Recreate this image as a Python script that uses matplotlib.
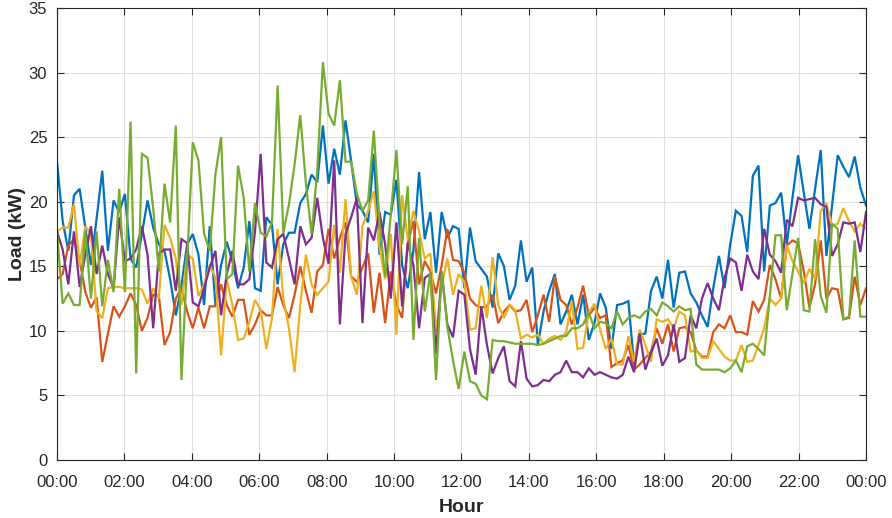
import numpy as np
import matplotlib
matplotlib.use("Agg")
import matplotlib.pyplot as plt

# ---- data (10-minute samples, 144 points from 00:00 to 24:00) ----
blue = [23.1, 18.5, 16.2, 20.5, 21.0, 18.0, 15.1, 18.7, 22.4, 16.2, 20.1, 19.2, 20.6,
        15.6, 14.9, 17.5, 20.1, 18.0, 16.7, 16.2, 14.0, 11.2, 13.5, 16.7, 17.5,
        15.9, 12.0, 18.1, 12.0, 15.1, 16.9, 15.4, 13.3, 14.9, 18.5, 13.3, 13.1,
        18.8, 18.2, 13.6, 16.7, 17.6, 17.6, 19.9, 20.6, 22.1, 21.5, 25.9, 21.4,
        24.1, 22.1, 26.3, 23.1, 19.8, 19.3, 18.4, 23.7, 15.9, 19.2, 19.0, 21.7,
        15.1, 13.3, 16.2, 22.3, 17.1, 19.2, 14.5, 19.2, 17.2, 18.1, 17.9, 13.3,
        18.0, 15.4, 14.8, 14.2, 11.8, 16.0, 15.0, 12.4, 13.5, 17.0, 13.8, 14.9,
        8.9, 11.5, 13.1, 14.4, 10.5, 11.5, 12.8, 10.5, 12.8, 9.3, 10.6,
        12.9, 11.8, 8.6, 12.0, 12.1, 12.3, 7.4, 9.7, 9.8, 13.1, 14.2, 12.5,
        15.5, 11.8, 14.5, 14.6, 12.9, 12.2, 11.2, 10.3, 13.3, 15.8, 13.3, 16.7,
        19.3, 18.9, 16.1, 22.0, 22.8, 14.6, 19.7, 19.9, 20.7, 16.7, 20.3, 23.6,
        20.7, 17.9, 21.0, 24.0, 15.8, 19.7, 23.6, 22.7, 21.9, 23.5, 21.1, 19.7]

orange = [14.0, 14.4, 16.6, 17.1, 15.5, 13.0, 11.8, 12.6, 7.6, 9.8, 11.9, 11.1, 11.9,
          12.9, 12.0, 10.0, 11.0, 12.8, 12.7, 8.9, 9.9, 12.5, 13.3, 11.5, 10.2,
          11.8, 10.2, 11.9, 11.9, 13.6, 12.0, 11.1, 12.4, 12.4, 9.7, 10.5, 11.6,
          11.2, 11.2, 13.4, 12.0, 11.0, 12.8, 15.0, 13.1, 11.4, 14.6, 15.1, 17.9,
          15.6, 17.2, 18.4, 14.2, 13.8, 14.9, 16.0, 11.4, 14.5, 10.6, 14.6, 12.0,
          11.0, 16.8, 18.5, 13.6, 15.4, 14.6, 12.9, 15.1, 17.9, 15.5, 15.4, 14.5,
          12.5, 12.0, 11.8, 11.9, 12.8, 10.6, 11.5, 12.0, 11.5, 11.6, 12.4, 9.9,
          11.2, 12.8, 10.7, 14.2, 12.4, 12.0, 10.5, 11.8, 13.5, 11.2, 11.8,
          11.0, 11.2, 7.2, 7.5, 7.7, 8.9, 7.0, 7.4, 7.9, 8.4, 10.2, 9.0,
          10.5, 8.4, 10.2, 10.3, 9.9, 8.5, 8.0, 8.0, 9.9, 10.5, 10.2, 11.2,
          9.9, 9.9, 9.7, 12.3, 11.5, 12.4, 15.1, 14.0, 12.5, 16.6, 17.0, 16.8,
          14.6, 11.8, 13.6, 17.0, 12.5, 13.3, 13.2, 10.9, 11.0, 14.2, 12.0, 13.3]

yellow = [17.7, 18.0, 18.0, 19.8, 15.0, 18.1, 17.5, 11.5, 11.0, 13.3, 13.4, 13.4, 13.3,
          13.3, 13.3, 13.2, 12.1, 13.3, 12.5, 18.2, 17.2, 15.6, 12.0, 15.9, 15.6,
          12.7, 13.6, 15.1, 14.1, 8.1, 14.0, 12.0, 9.3, 9.4, 10.7, 12.4, 11.6,
          8.6, 11.0, 17.9, 12.5, 10.2, 6.8, 12.0, 15.9, 13.6, 12.8, 13.3, 13.8,
          18.2, 14.5, 20.2, 14.2, 12.8, 18.1, 19.3, 20.8, 16.5, 14.0, 17.5, 9.7,
          20.5, 17.1, 19.3, 17.7, 15.6, 16.0, 9.9, 13.5, 15.6, 12.8, 14.4, 13.8,
          10.1, 10.2, 13.5, 11.0, 15.7, 12.0, 11.0, 12.0, 11.6, 9.4, 9.7, 9.5,
          9.7, 9.0, 9.4, 9.6, 9.3, 9.9, 12.3, 8.6, 8.7, 11.4, 12.1,
          10.1, 8.6, 9.4, 7.4, 7.4, 9.6, 7.6, 10.1, 8.9, 7.6, 10.9, 10.7,
          10.9, 10.2, 11.5, 11.2, 8.4, 8.5, 7.9, 7.9, 9.2, 8.6, 8.0, 7.7,
          7.7, 8.9, 7.6, 7.7, 8.9, 10.2, 12.5, 12.0, 12.5, 16.6, 15.4, 14.6,
          13.7, 14.8, 14.0, 19.3, 19.9, 18.1, 18.3, 19.5, 18.5, 17.7, 18.3, 17.9]

purple = [17.7, 16.3, 13.6, 17.7, 13.4, 15.9, 18.1, 14.4, 16.6, 14.4, 13.3, 18.8, 15.4,
          15.6, 16.3, 18.1, 15.9, 10.2, 16.0, 16.3, 16.3, 13.1, 17.1, 16.8, 12.2,
          11.9, 13.3, 14.9, 16.2, 11.2, 14.4, 16.2, 13.6, 13.6, 14.0, 17.7, 23.7,
          15.3, 14.9, 17.1, 17.5, 15.6, 13.6, 18.1, 16.7, 17.2, 20.3, 17.2, 15.2,
          23.2, 10.5, 17.5, 18.8, 20.3, 10.6, 18.0, 17.0, 19.2, 16.7, 12.5, 18.4,
          11.9, 16.8, 15.1, 10.2, 14.1, 14.4, 8.2, 14.6, 10.5, 9.5, 13.1, 12.8,
          8.6, 6.6, 11.9, 8.9, 6.7, 7.9, 8.8, 6.1, 5.7, 9.2, 6.3, 5.7,
          5.8, 6.2, 6.1, 6.6, 6.8, 7.7, 6.8, 6.8, 6.4, 7.1, 6.6,
          6.8, 6.6, 6.4, 6.3, 6.6, 8.0, 6.8, 9.8, 7.0, 8.3, 9.4, 7.3,
          8.1, 10.5, 7.6, 7.9, 11.2, 10.2, 12.5, 13.7, 12.5, 11.6, 14.1, 15.6,
          15.3, 13.1, 15.9, 14.6, 14.0, 17.9, 15.9, 15.4, 14.5, 18.6, 18.1, 20.3,
          20.1, 20.2, 20.3, 19.8, 19.6, 15.8, 16.7, 18.4, 18.3, 18.4, 16.1, 19.2]

green = [17.7, 12.1, 12.9, 12.0, 12.0, 17.7, 12.5, 17.7, 11.9, 15.5, 13.0, 21.0, 13.0,
         26.2, 6.7, 23.7, 23.4, 19.5, 14.6, 21.4, 18.4, 25.9, 6.2, 15.4, 24.6,
         23.2, 17.5, 16.2, 22.1, 25.0, 14.0, 14.4, 22.8, 20.3, 14.6, 19.9, 17.6,
         17.3, 18.4, 29.0, 17.6, 19.8, 22.9, 26.7, 21.4, 17.5, 22.4, 30.8, 26.8,
         25.9, 29.4, 23.1, 23.1, 20.6, 19.3, 20.1, 25.5, 18.5, 14.2, 19.0, 24.0,
         16.7, 21.2, 9.3, 17.2, 11.5, 14.5, 6.2, 14.6, 10.3, 7.7, 5.5, 8.4,
         6.1, 5.9, 5.0, 4.7, 9.3, 9.2, 9.2, 9.1, 9.0, 9.0, 9.0, 9.0,
         8.9, 9.0, 9.2, 9.4, 9.6, 9.6, 10.2, 10.2, 10.5, 11.4, 10.2,
         10.7, 10.6, 10.2, 11.5, 10.5, 11.0, 11.2, 11.0, 11.5, 11.7, 11.2, 12.2,
         11.9, 11.5, 11.9, 11.6, 11.7, 7.4, 7.0, 7.0, 7.0, 7.0, 6.8, 7.1,
         7.7, 6.8, 8.8, 9.0, 8.6, 8.1, 12.7, 17.4, 17.4, 11.6, 14.4, 17.2,
         11.6, 11.5, 17.1, 12.7, 11.4, 18.3, 17.9, 10.9, 11.1, 17.0, 11.1, 11.1]

tick_hours = list(range(0, 25, 2))
tick_labels = ["00:00", "02:00", "04:00", "06:00", "08:00", "10:00", "12:00",
               "14:00", "16:00", "18:00", "20:00", "22:00", "00:00"]
yticks = list(range(0, 36, 5))

series = [blue, orange, yellow, purple, green]
colors = ["#0072BD", "#D95319", "#EDB120", "#7E2F8E", "#77AC30"]

plt.rcParams['font.family'] = ['Liberation Sans', 'DejaVu Sans']

fig = plt.figure(figsize=(8.92, 5.18), dpi=100)
ax = fig.add_axes([57/892, 1 - 460/518, (866-57)/892, (460-8)/518])

hours = np.linspace(0, 24, len(blue))
for s, c in zip(series, colors):
    ax.plot(hours, s, color=c, linewidth=1.6, solid_joinstyle='miter')

ax.set_xlim(0, 24)
ax.set_ylim(0, 35)
ax.set_xticks(tick_hours)
ax.set_xticklabels(tick_labels)
ax.set_yticks(yticks)
ax.grid(True, color='#DFDFDF', linewidth=0.8)
ax.set_axisbelow(True)
for sp in ax.spines.values():
    sp.set_color('#262626')
    sp.set_linewidth(0.8)
ax.tick_params(direction='in', length=5, width=0.8, colors='#262626',
               labelsize=12, top=True, right=True)
ax.tick_params(axis='x', pad=11)
ax.tick_params(axis='y', pad=7)
for lbl in ax.get_xticklabels() + ax.get_yticklabels():
    lbl.set_color('#262626')
ax.set_xlabel('Hour', fontsize=14, fontweight='bold', color='#262626', labelpad=6)
ax.set_ylabel('Load (kW)', fontsize=14, fontweight='bold', color='#262626', labelpad=2)

fig.savefig('out.png', dpi=100)
